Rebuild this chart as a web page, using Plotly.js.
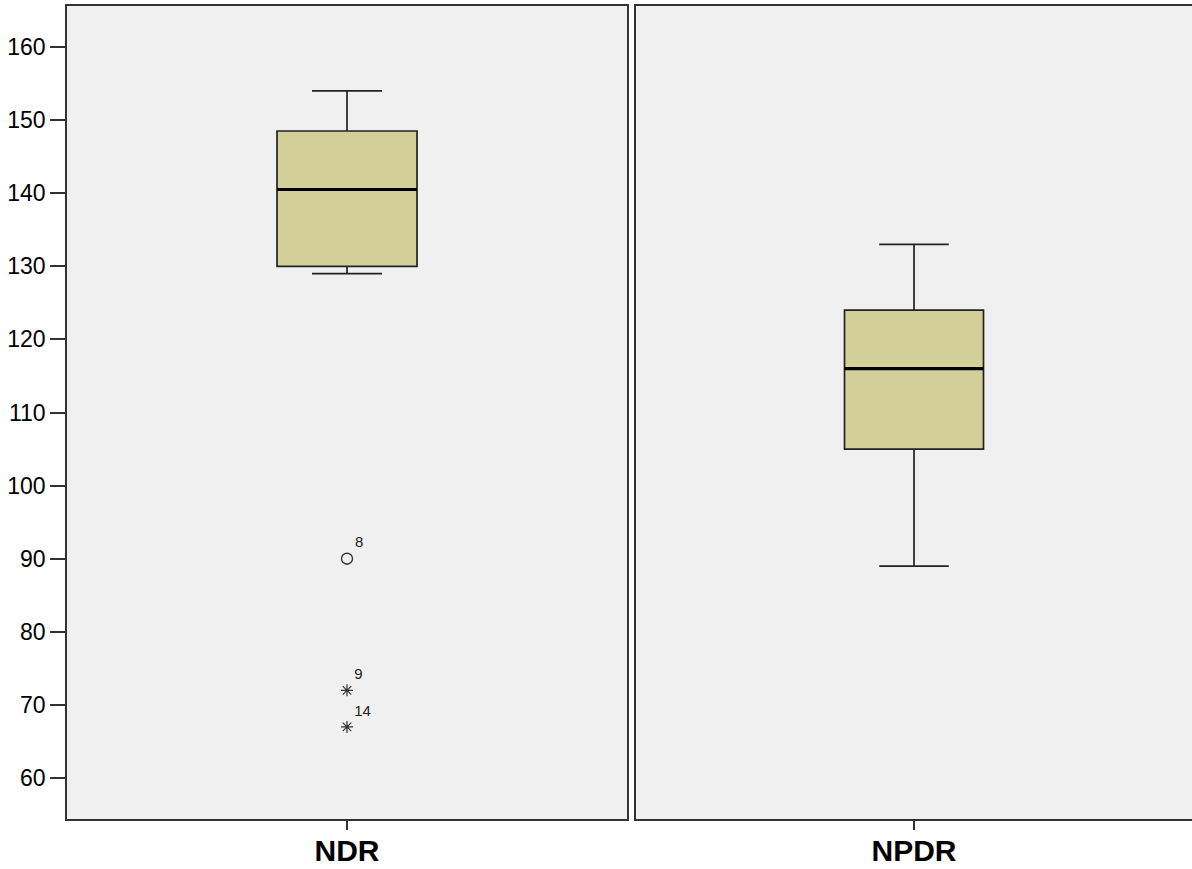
<!DOCTYPE html>
<html>
<head>
<meta charset="utf-8">
<script src="https://cdn.plot.ly/plotly-3.0.1.min.js"></script>
<style>html,body{margin:0;padding:0;background:#fff;}#chart{width:1192px;height:869px;}</style>
</head>
<body>
<div id="chart"></div>
<script>
var groups = ["NDR", "NPDR"];
var lowerWhisker = [129, 89];
var q1 = [130, 105];
var median = [140.5, 116];
var q3 = [148.5, 124];
var upperWhisker = [154, 133];

var outlierValues = [90];
var outlierLabels = ["8"];
var extremeValues = [72, 67];
var extremeLabels = ["9", "14"];

var yTicks = [60, 70, 80, 90, 100, 110, 120, 130, 140, 150, 160];

var boxColor = "#d3cf99";
var lineColor = "#222222";

var traces = [];
groups.forEach(function (g, i) {
  traces.push({
    type: "box",
    x: [g],
    q1: [q1[i]],
    median: [median[i]],
    q3: [q3[i]],
    lowerfence: [lowerWhisker[i]],
    upperfence: [upperWhisker[i]],
    boxpoints: false,
    width: 0.25,
    whiskerwidth: 0.5,
    fillcolor: boxColor,
    line: { color: lineColor, width: 1.7 },
    xaxis: i === 0 ? "x" : "x2",
    yaxis: i === 0 ? "y" : "y2",
    hoverinfo: "skip",
    showlegend: false
  });
});

var labelFont = { family: "Liberation Sans, Arial, sans-serif", size: 15, color: "#222" };

traces.push({
  type: "scatter",
  mode: "markers+text",
  x: outlierValues.map(function () { return groups[0]; }),
  y: outlierValues,
  text: outlierLabels,
  textposition: "top right",
  textfont: labelFont,
  marker: { symbol: "circle-open", size: 11, color: "#333", line: { width: 1.4, color: "#333" } },
  xaxis: "x", yaxis: "y",
  showlegend: false, hoverinfo: "skip", cliponaxis: false
});
traces.push({
  type: "scatter",
  mode: "markers+text",
  x: extremeValues.map(function () { return groups[0]; }),
  y: extremeValues,
  text: extremeLabels,
  textposition: "top right",
  textfont: labelFont,
  marker: { symbol: "asterisk-open", size: 10, color: "#333", line: { width: 1.2, color: "#333" } },
  xaxis: "x", yaxis: "y",
  showlegend: false, hoverinfo: "skip", cliponaxis: false
});

var shapes = groups.map(function (g, i) {
  return {
    type: "line",
    xref: i === 0 ? "x domain" : "x2 domain",
    yref: i === 0 ? "y" : "y2",
    x0: 0.375, x1: 0.625,
    y0: median[i], y1: median[i],
    line: { color: "#000", width: 3.2 }
  };
});

var tickFont = { family: "Liberation Sans, Arial, sans-serif", size: 23, color: "#000" };
var catFont = { family: "Liberation Sans, Arial, sans-serif", size: 30, color: "#000", weight: "bold" };
var yRange = [54.4, 165.6];

var layout = {
  width: 1192, height: 869,
  margin: { l: 67, r: 0, t: 6, b: 50 },
  paper_bgcolor: "#ffffff",
  plot_bgcolor: "#f0f0f0",
  showlegend: false,
  shapes: shapes,
  xaxis: {
    domain: [0, 0.4978], type: "category", range: [-0.5, 0.5],
    showline: true, mirror: true, linecolor: "#333", linewidth: 1.8,
    ticks: "outside", ticklen: 9, tickcolor: "#333", tickwidth: 1.5, ticklabelstandoff: -5,
    tickfont: catFont, showgrid: false, zeroline: false, fixedrange: true
  },
  xaxis2: {
    domain: [0.5058, 1], type: "category", range: [-0.5, 0.5], anchor: "y2",
    showline: true, mirror: true, linecolor: "#333", linewidth: 1.8,
    ticks: "outside", ticklen: 9, tickcolor: "#333", tickwidth: 1.5, ticklabelstandoff: -5,
    tickfont: catFont, showgrid: false, zeroline: false, fixedrange: true
  },
  yaxis: {
    range: yRange, tickvals: yTicks, ticktext: yTicks.map(String),
    showline: true, mirror: true, linecolor: "#333", linewidth: 1.8,
    ticks: "outside", ticklen: 15, tickcolor: "#333", tickwidth: 2,
    tickfont: tickFont, showgrid: false, zeroline: false, fixedrange: true
  },
  yaxis2: {
    range: yRange, anchor: "x2", showticklabels: false, ticks: "",
    showline: true, mirror: false, linecolor: "#333", linewidth: 1.8,
    showgrid: false, zeroline: false, fixedrange: true
  }
};

Plotly.newPlot("chart", traces, layout, { displayModeBar: false, staticPlot: true });
</script>
</body>
</html>
